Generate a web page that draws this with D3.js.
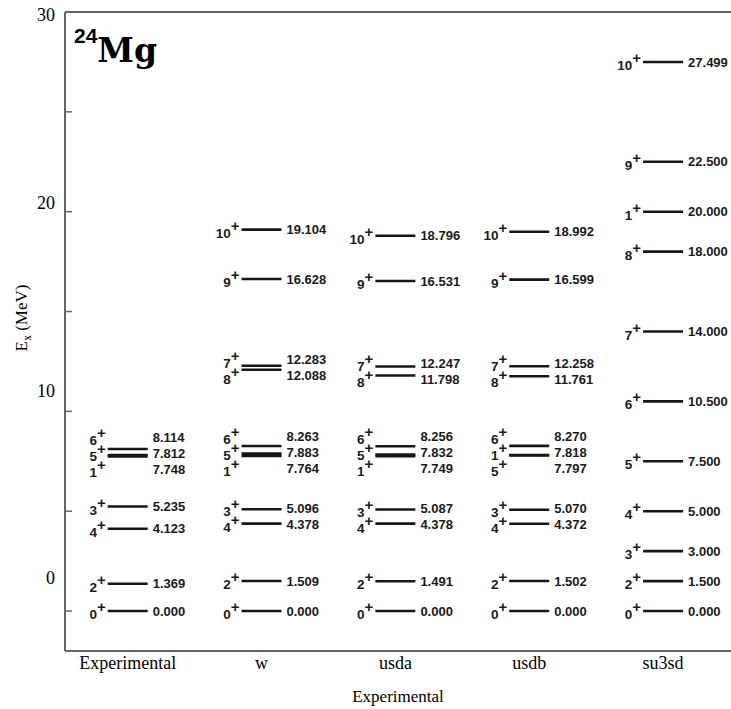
<!DOCTYPE html>
<html>
<head>
<meta charset="utf-8">
<script src="https://cdn.jsdelivr.net/npm/d3@7"></script>
<style>
  html, body { margin: 0; padding: 0; background: #fff; }
  svg { display: block; }
</style>
</head>
<body>
<div id="chart"></div>
<script>
// ---- data ----
const categories = ["Experimental", "w", "usda", "usdb", "su3sd"];

const expSpins = [0, 2, 4, 3, 1, 5, 6];
const expEnergies = [0.000, 1.369, 4.123, 5.235, 7.748, 7.812, 8.114];

const wSpins = [0, 2, 4, 3, 1, 5, 6, 8, 7, 9, 10];
const wEnergies = [0.000, 1.509, 4.378, 5.096, 7.764, 7.883, 8.263, 12.088, 12.283, 16.628, 19.104];

const usdaSpins = [0, 2, 4, 3, 1, 5, 6, 8, 7, 9, 10];
const usdaEnergies = [0.000, 1.491, 4.378, 5.087, 7.749, 7.832, 8.256, 11.798, 12.247, 16.531, 18.796];

const usdbSpins = [0, 2, 4, 3, 5, 1, 6, 8, 7, 9, 10];
const usdbEnergies = [0.000, 1.502, 4.372, 5.070, 7.797, 7.818, 8.270, 11.761, 12.258, 16.599, 18.992];

const su3sdSpins = [0, 2, 3, 4, 5, 6, 7, 8, 1, 9, 10];
const su3sdEnergies = [0.000, 1.500, 3.000, 5.000, 7.500, 10.500, 14.000, 18.000, 20.000, 22.500, 27.499];

const yTicks = [0, 5, 10, 15, 20, 25, 30];
const yTickLabels = [0, 10, 20, 30];

const nucleusMass = "24";
const nucleusName = "Mg";
const yTitle = "E";
const yTitleSub = "x";
const yTitleUnit = " (MeV)";
const xTitle = "Experimental";

const columns = [
  { name: categories[0], spins: expSpins, energies: expEnergies },
  { name: categories[1], spins: wSpins, energies: wEnergies },
  { name: categories[2], spins: usdaSpins, energies: usdaEnergies },
  { name: categories[3], spins: usdbSpins, energies: usdbEnergies },
  { name: categories[4], spins: su3sdSpins, energies: su3sdEnergies }
];

// ---- layout ----
const W = 731, H = 709;
const plot = { left: 65, right: 731, top: 12, bottom: 651 };
const serif = "'Liberation Serif', 'DejaVu Serif', 'Times New Roman', serif";

const svg = d3.select("#chart").append("svg")
  .attr("width", W).attr("height", H)
  .style("background", "#fff");

const y = d3.scaleLinear().domain([-2, 30]).range([plot.bottom, plot.top]);
const yLabel = d3.scaleLinear().domain([0, 30]).range([578, 15]);
const x = d3.scaleBand().domain(categories).range([60.75, 730]);

const halfLine = 20;
const minGap = 16;

// frame
const frameColor = "#666";
svg.append("line").attr("x1", plot.left).attr("x2", plot.left)
  .attr("y1", plot.top).attr("y2", plot.bottom)
  .attr("stroke", frameColor).attr("stroke-width", 2);
svg.append("line").attr("x1", plot.left).attr("x2", plot.right)
  .attr("y1", plot.top).attr("y2", plot.top)
  .attr("stroke", frameColor).attr("stroke-width", 2);
svg.append("line").attr("x1", plot.left).attr("x2", plot.right)
  .attr("y1", plot.bottom).attr("y2", plot.bottom)
  .attr("stroke", frameColor).attr("stroke-width", 2);

// inward ticks
svg.append("g").selectAll("line").data(yTicks).join("line")
  .attr("x1", plot.left).attr("x2", plot.left + 7)
  .attr("y1", d => y(d)).attr("y2", d => y(d))
  .attr("stroke", frameColor).attr("stroke-width", 1.5);

// tick labels
svg.append("g").selectAll("text").data(yTickLabels).join("text")
  .attr("x", 55).attr("y", d => yLabel(d))
  .attr("dy", "0.35em")
  .attr("text-anchor", "end")
  .attr("font-family", serif)
  .attr("font-size", 18)
  .text(d => d);

// y title
const yt = svg.append("text")
  .attr("transform", "translate(27,318) rotate(-90)")
  .attr("text-anchor", "middle")
  .attr("font-family", serif)
  .attr("font-size", 17);
yt.append("tspan").text(yTitle);
yt.append("tspan").attr("font-size", 12).attr("dy", 4).text(yTitleSub);
yt.append("tspan").attr("dy", -4).text(yTitleUnit);

// x category labels
svg.append("g").selectAll("text").data(categories).join("text")
  .attr("x", d => x(d) + x.bandwidth() / 2)
  .attr("y", 669)
  .attr("text-anchor", "middle")
  .attr("font-family", serif)
  .attr("font-size", 18)
  .text(d => d);

// x title
svg.append("text")
  .attr("x", 398).attr("y", 702)
  .attr("text-anchor", "middle")
  .attr("font-family", serif)
  .attr("font-size", 17)
  .text(xTitle);

// nucleus title
const nt = svg.append("text").attr("x", 74).attr("y", 62);
nt.append("tspan")
  .attr("font-family", "'Liberation Sans', Arial, sans-serif")
  .attr("font-weight", "bold").attr("font-size", 21)
  .attr("dy", -19).text(nucleusMass);
nt.append("tspan")
  .attr("font-family", "'DejaVu Serif', serif")
  .attr("font-weight", "bold").attr("font-size", 33)
  .attr("dx", 0).attr("dy", 19).text(nucleusName);

// label de-overlap
function spread(pos, gap) {
  let groups = pos.map(p => ({ items: [p], center: p }));
  let changed = true;
  while (changed) {
    changed = false;
    for (let i = 0; i < groups.length - 1; i++) {
      const a = groups[i], b = groups[i + 1];
      const aEnd = a.center + (a.items.length - 1) * gap / 2;
      const bStart = b.center - (b.items.length - 1) * gap / 2;
      if (bStart - aEnd < gap) {
        const items = a.items.concat(b.items);
        const center = d3.mean(items);
        groups.splice(i, 2, { items, center });
        changed = true;
        break;
      }
    }
  }
  const out = [];
  groups.forEach(g => {
    const n = g.items.length;
    g.items.forEach((_, k) => out.push(g.center + (k - (n - 1) / 2) * gap));
  });
  return out;
}

const levelFont = "'Liberation Sans', Arial, Helvetica, sans-serif";

columns.forEach(col => {
  const cx = x(col.name) + x.bandwidth() / 2;
  const levels = col.energies.map((e, i) => ({ e, spin: col.spins[i], py: y(e) }))
    .sort((a, b) => a.py - b.py);
  const labelPos = spread(levels.map(l => l.py), minGap);
  levels.forEach((l, i) => l.ly = labelPos[i]);

  const g = svg.append("g");
  g.selectAll("line").data(levels).join("line")
    .attr("x1", cx - halfLine).attr("x2", cx + halfLine)
    .attr("y1", d => d.py).attr("y2", d => d.py)
    .attr("stroke", "#161616").attr("stroke-width", 2.6);

  g.selectAll("text.energy").data(levels).join("text")
    .attr("class", "energy")
    .attr("x", cx + halfLine + 5)
    .attr("y", d => d.ly)
    .attr("dy", "0.36em")
    .attr("font-family", levelFont)
    .attr("font-weight", "bold")
    .attr("font-size", 13)
    .attr("fill", "#1a1a1a")
    .text(d => d.e.toFixed(3));

  const sp = g.selectAll("text.spin").data(levels).join("text")
    .attr("class", "spin")
    .attr("x", cx - halfLine - 2)
    .attr("y", d => d.ly + 8)
    .attr("text-anchor", "end")
    .attr("font-family", levelFont)
    .attr("font-weight", "bold")
    .attr("font-size", 13.5)
    .attr("fill", "#1a1a1a");
  sp.append("tspan").text(d => d.spin);
  sp.append("tspan").attr("dy", -7).attr("font-size", 15).text("+");
});
</script>
</body>
</html>
